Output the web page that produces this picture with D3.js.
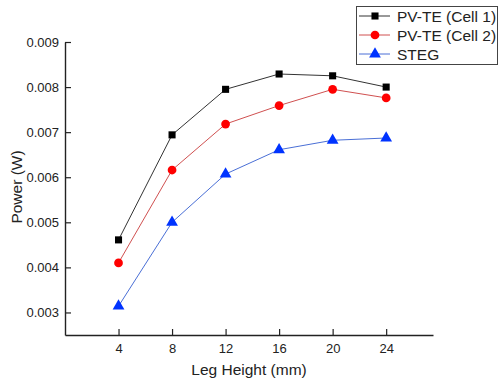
<!DOCTYPE html>
<html>
<head>
<meta charset="utf-8">
<script src="https://cdn.jsdelivr.net/npm/d3@7"></script>
<style>
body{margin:0;background:#fff;}
text{font-family:"Liberation Sans",Arial,sans-serif;fill:#222;}
</style>
</head>
<body>
<svg id="chart" width="499" height="384"></svg>
<script>
var legHeight = [4, 8, 12, 16, 20, 24];
var cell1 = [0.00461, 0.00694, 0.00795, 0.00829, 0.00825, 0.00800];
var cell2 = [0.00410, 0.00616, 0.00718, 0.00759, 0.00795, 0.00776];
var steg  = [0.00314, 0.00500, 0.00607, 0.00661, 0.00682, 0.00687];
var yTicks = [0.003, 0.004, 0.005, 0.006, 0.007, 0.008, 0.009];
var seriesNames = ["PV-TE (Cell 1)", "PV-TE (Cell 2)", "STEG"];

var series = [
	{name: seriesNames[0], vals: cell1, line: "#333", fill: "#000", shape: d3.symbolSquare, size: 50},
	{name: seriesNames[1], vals: cell2, line: "#d05050", fill: "#f00", shape: d3.symbolCircle, size: 60},
	{name: seriesNames[2], vals: steg, line: "#4a6fd6", fill: "#0033ff", shape: d3.symbolTriangle, size: 60}
];

var svg = d3.select("#chart");
var x = d3.scaleLinear().domain([0, 27.5]).range([65, 433]);
var y = d3.scaleLinear().domain([0.0025, 0.009]).range([335, 42]);

// axes, ticks inside
var xa = svg.append("g").attr("transform", "translate(0,335)")
	.call(d3.axisBottom(x).tickValues(legHeight).tickSizeInner(-6).tickSizeOuter(0).tickPadding(9));
var ya = svg.append("g").attr("transform", "translate(65,0)")
	.call(d3.axisLeft(y).tickValues(yTicks).tickFormat(d3.format(".3f")).tickSizeInner(-6).tickSizeOuter(0).tickPadding(6));
[xa, ya].forEach(function(a){
	a.select(".domain").attr("stroke", "#222").attr("stroke-width", 1.4);
	a.selectAll(".tick line").attr("stroke", "#222").attr("stroke-width", 1.2);
	a.selectAll(".tick text").style("font-size", "13px").attr("fill", "#222");
});

svg.append("text").attr("x", 249).attr("y", 375).attr("text-anchor", "middle")
	.style("font-size", "15.5px").text("Leg Height (mm)");
svg.append("text").attr("transform", "translate(22,187) rotate(-90)").attr("text-anchor", "middle")
	.style("font-size", "15.5px").text("Power (W)");

var line = d3.line().x(function(d, i){ return x(legHeight[i]); }).y(function(d){ return y(d); });

series.forEach(function(s){
	svg.append("path").datum(s.vals).attr("d", line)
		.attr("fill", "none").attr("stroke", s.line).attr("stroke-width", 1);
	svg.selectAll(null).data(s.vals).enter().append("path")
		.attr("transform", function(d, i){ return "translate(" + x(legHeight[i]) + "," + y(d) + ")"; })
		.attr("d", d3.symbol().type(s.shape).size(s.size))
		.attr("fill", s.fill);
});

// legend
var lg = svg.append("g");
lg.append("rect").attr("x", 356.5).attr("y", 6.5).attr("width", 141).attr("height", 58)
	.attr("fill", "#fff").attr("stroke", "#444").attr("stroke-width", 1);
series.forEach(function(s, i){
	var cy = 16 + i * 19;
	lg.append("line").attr("x1", 359).attr("x2", 390).attr("y1", cy).attr("y2", cy)
		.attr("stroke", s.line).attr("stroke-width", 1);
	lg.append("path").attr("transform", "translate(375," + cy + ")")
		.attr("d", d3.symbol().type(s.shape).size(s.size)).attr("fill", s.fill);
	lg.append("text").attr("x", 397).attr("y", cy + 5.5).style("font-size", "15.5px").text(s.name);
});
</script>
</body>
</html>
